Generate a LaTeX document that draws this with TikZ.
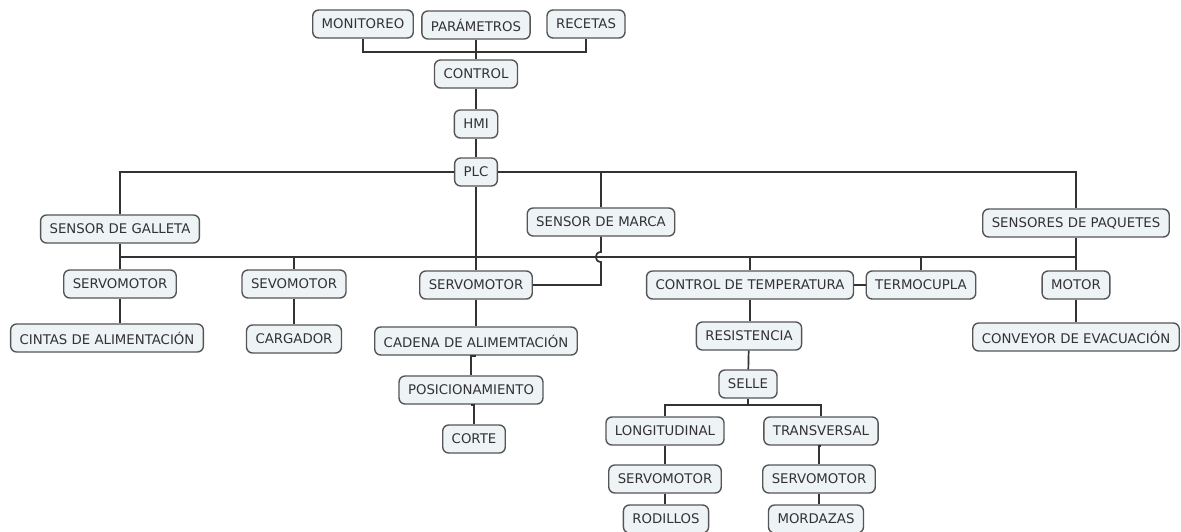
\documentclass[tikz,border=0pt]{standalone}
\usepackage{fontspec}
\setmainfont{DejaVu Sans}
\usepackage{xcolor}
\usepackage{tikz}
\usetikzlibrary{positioning}

\definecolor{boxfill}{RGB}{238,243,246}
\definecolor{boxline}{RGB}{85,85,85}
\definecolor{txt}{RGB}{50,50,50}

\begin{document}
\begin{tikzpicture}[
  x=1pt, y=-1pt,
  concept/.style={draw=boxline, line width=1.4pt, rounded corners=6pt, fill=boxfill,
                  minimum height=28pt, inner xsep=9pt, inner ysep=2pt, text=txt,
                  font=\fontsize{13.3}{15}\selectfont},
  link/.style={line width=1.7pt, draw=black!80}
]
  \useasboundingbox (0,0) rectangle (1181,531);

  % Top
  \node[concept] (monitoreo) at (363,24) {MONITOREO};
  \node[concept] (parametros) at (476,25) {PARÁMETROS};
  \node[concept] (recetas) at (586,24) {RECETAS};
  \node[concept] (control) at (476,74) {CONTROL};
  \node[concept] (hmi) at (476,124) {HMI};
  \node[concept] (plc) at (476,172) {PLC};

  % Sensors
  \node[concept] (galleta) at (120,229) {SENSOR DE GALLETA};
  \node[concept] (marca) at (601,222) {SENSOR DE MARCA};
  \node[concept] (paquetes) at (1076,223) {SENSORES DE PAQUETES};

  % Actuators
  \node[concept] (servoA) at (120,284) {SERVOMOTOR};
  \node[concept] (sevomotor) at (294,284) {SEVOMOTOR};
  \node[concept] (servoC) at (476,285) {SERVOMOTOR};
  \node[concept] (ctemp) at (750,285) {CONTROL DE TEMPERATURA};
  \node[concept] (termo) at (921,285) {TERMOCUPLA};
  \node[concept] (motor) at (1076,285) {MOTOR};

  \node[concept] (cintas) at (107,338) {CINTAS DE ALIMENTACIÓN};
  \node[concept] (cargador) at (294,339) {CARGADOR};
  \node[concept] (cadena) at (476,341) {CADENA DE ALIMEMTACIÓN};
  \node[concept] (posic) at (471,390) {POSICIONAMIENTO};
  \node[concept] (corte) at (474,439) {CORTE};
  \node[concept] (resist) at (749,336) {RESISTENCIA};
  \node[concept] (conveyor) at (1076,337) {CONVEYOR DE EVACUACIÓN};

  % Selle
  \node[concept] (selle) at (748,384) {SELLE};
  \node[concept] (longi) at (665,431) {LONGITUDINAL};
  \node[concept] (trans) at (821,431) {TRANSVERSAL};
  \node[concept] (servoL) at (665,479) {SERVOMOTOR};
  \node[concept] (servoT) at (819,479) {SERVOMOTOR};
  \node[concept] (rodillos) at (666,519) {RODILLOS};
  \node[concept] (mordazas) at (816,519) {MORDAZAS};

  \coordinate (topbus) at (0,52);
  \coordinate (busB) at (0,257);
  \coordinate (busC) at (0,405);

  % Lines
  \draw[link] (monitoreo.south) -- (monitoreo.south |- topbus) -| (recetas.south);
  \draw[link] (parametros) -- (control);
  \draw[link] (control) -- (hmi);
  \draw[link] (hmi) -- (plc);

  \draw[link] (plc.west) -| (galleta.north);
  \draw[link] (plc.east) -| (paquetes.north);
  \draw[link] (marca.north) -- (marca.north |- plc);
  \draw[link] (plc.south) -- (servoC.north);

  \draw[link] (galleta.south) -- (galleta.south |- busB) -- (paquetes.south |- busB) -- (paquetes.south);
  \foreach \n in {servoA,sevomotor,ctemp,termo,motor}
    \draw[link] (\n.north) -- (\n.north |- busB);
  \draw[link] (marca.south) -- ([yshift=5pt]marca.south |- busB)
    .. controls +(-7,0) and +(-7,0) .. ([yshift=-5pt]marca.south |- busB) |- (servoC.east);
  \draw[link] (ctemp.east) -- (termo.west);

  \draw[link] (servoA.south) -- (servoA.south |- cintas.north);
  \draw[link] (sevomotor) -- (cargador);
  \draw[link] (servoC) -- (cadena);
  \draw[link] (cadena.south) -- (cadena.south -| posic.north) -- (posic.north);
  \draw[link] (posic.south) -- (posic.south -| corte) -- (corte.north);
  \draw[link] (ctemp.south) -- (ctemp.south |- resist.north);
  \draw[link] (resist) -- (selle);
  \draw[link] (motor) -- (conveyor);

  \draw[link] (selle.south) -- (selle.south |- busC);
  \draw[link] (longi.north) -- (longi.north |- busC) -| (trans.north);
  \draw[link] (longi) -- (servoL);
  \draw[link] (servoL.south) -- (servoL.south |- rodillos.north);
  \draw[link] (trans.south) -- (trans.south -| servoT) -- (servoT.north);
  \draw[link] (servoT.south) -- (servoT.south |- mordazas.north);
\end{tikzpicture}
\end{document}
